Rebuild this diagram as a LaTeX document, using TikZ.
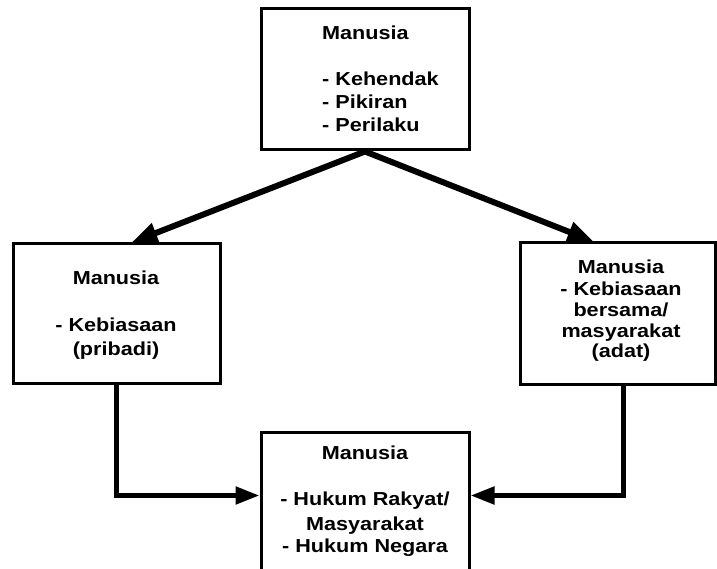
\documentclass[tikz,border=0pt]{standalone}
\usepackage{fontspec}
\setmainfont[FakeStretch=1.15]{Liberation Sans}
\usetikzlibrary{arrows.meta,calc}
\begin{document}
\begin{tikzpicture}[x=1pt,y=-1pt,
  box/.style={draw,line width=3pt,rectangle,inner sep=0pt},
  txt/.style={font=\fontsize{18.8}{23}\selectfont\bfseries,inner sep=0pt},
  conn/.style={line width=5pt,-{Triangle[length=24pt,width=17pt]}},
  diag/.style={line width=6pt,-{Triangle[length=26pt,width=20pt]}}]
\useasboundingbox (0,0) rectangle (717,569);
\clip (0,0) rectangle (717,569);
% boxes
\node[box,minimum width=208pt,minimum height=141pt] (tbox) at (365,79.5) {};
\node[box,minimum width=207pt,minimum height=139pt] (lbox) at (116.5,313.5) {};
\node[box,minimum width=195pt,minimum height=141pt] (rbox) at (617.5,313.5) {};
\node[box,minimum width=208pt,minimum height=160pt] (bbox) at (365,512) {};
% top text
\node[txt,anchor=base west] (t1) at (322,40) {Manusia};
\node[txt,anchor=base west] (t2) at (322,86) {- Kehendak};
\node[txt,anchor=base west] (t3) at (322,109) {- Pikiran};
\node[txt,anchor=base west] (t4) at (322,132) {- Perilaku};
% left text
\node[txt,anchor=base] (l1) at (116,284) {Manusia};
\node[txt,anchor=base] (l2) at (116,331) {- Kebiasaan};
\node[txt,anchor=base] (l3) at (116,355) {(pribadi)};
% right text
\node[txt,anchor=base] (r1) at (621,273) {Manusia};
\node[txt,anchor=base] (r2) at (621,295) {- Kebiasaan};
\node[txt,anchor=base] (r3) at (621,316) {bersama/};
\node[txt,anchor=base] (r4) at (621,337) {masyarakat};
\node[txt,anchor=base] (r5) at (621,357) {(adat)};
% bottom text
\node[txt,anchor=base] (b1) at (365,459) {Manusia};
\node[txt,anchor=base] (b2) at (365,505) {- Hukum Rakyat/};
\node[txt,anchor=base] (b3) at (365,530) {Masyarakat};
\node[txt,anchor=base] (b4) at (365,552) {- Hukum Negara};
% connectors
\draw[diag] (tbox.south) -- ([xshift=120pt]lbox.north west);
\draw[diag] (tbox.south) -- ([xshift=75pt]rbox.north west);
\draw[conn] (lbox.south) |- ($(bbox.north west)+(0,65)$);
\draw[conn] ([xshift=5.5pt]rbox.south) |- ($(bbox.north east)+(0,65)$);
\end{tikzpicture}
\end{document}
